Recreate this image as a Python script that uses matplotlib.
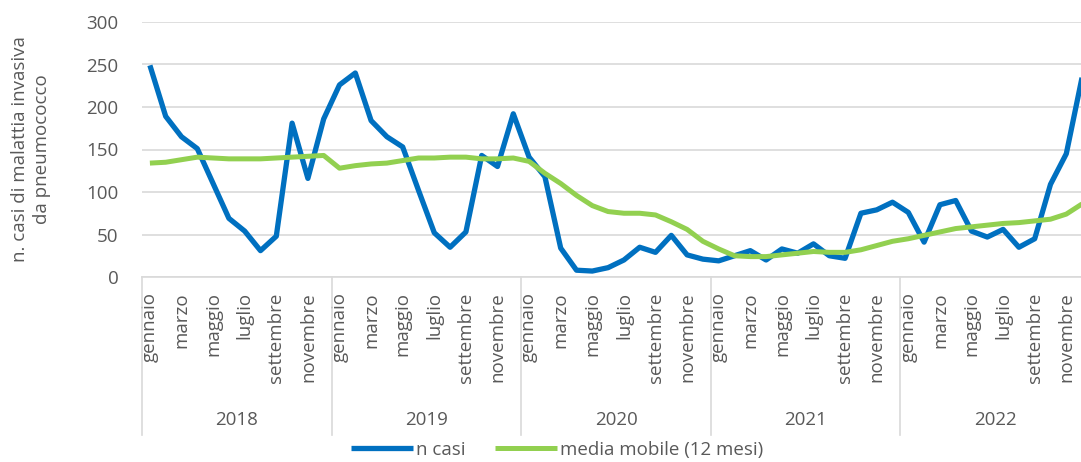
import numpy as np
import matplotlib
matplotlib.use("Agg")
import matplotlib.pyplot as plt
import matplotlib.transforms as mtransforms

plt.rcParams['font.family'] = ['Open Sans', 'DejaVu Sans']

# Data: monthly cases Jan 2018 - Dec 2022
years = ["2018", "2019", "2020", "2021", "2022"]
months = ["gennaio", "febbraio", "marzo", "aprile", "maggio", "giugno",
          "luglio", "agosto", "settembre", "ottobre", "novembre", "dicembre"]

n_casi = [249, 189, 165, 151, 110, 69, 54, 31, 48, 181, 116, 186,
          226, 240, 184, 165, 153, 102, 52, 35, 53, 143, 130, 192,
          141, 118, 34, 8, 7, 11, 20, 35, 29, 49, 26, 21,
          19, 25, 31, 20, 33, 28, 39, 25, 22, 75, 79, 88,
          76, 41, 85, 90, 54, 47, 56, 35, 45, 109, 145, 235]

media_mobile = [134, 135, 138, 141, 140, 139, 139, 139, 140, 141, 142, 143,
                128, 131, 133, 134, 137, 140, 140, 141, 141, 139, 139, 140,
                136, 122, 110, 96, 84, 77, 75, 75, 73, 65, 56, 42,
                33, 25, 24, 24, 26, 28, 30, 29, 29, 32, 37, 42,
                45, 49, 53, 57, 59, 61, 63, 64, 66, 68, 74, 86]

x = np.arange(len(n_casi))
text_col = "#595959"
grid_col = "#d9d9d9"
fs = 13.5

fig = plt.figure(figsize=(10.81, 4.62), dpi=100)
ax = fig.add_axes([142 / 1081, (462 - 277) / 462, 948 / 1081, 255 / 462])

ax.plot(x, n_casi, color="#0070C0", lw=3.8, solid_capstyle="butt", label="n casi", zorder=3)
ax.plot(x, media_mobile, color="#92D050", lw=3.6, solid_capstyle="butt",
        label="media mobile (12 mesi)", zorder=3)

ax.set_xlim(-0.5, len(x) - 0.5)
ax.set_ylim(0, 300)
ax.set_yticks(range(0, 301, 50))
ax.yaxis.grid(True, color=grid_col, lw=1.2)
ax.set_axisbelow(True)
for s in ["left", "right", "top"]:
    ax.spines[s].set_visible(False)
ax.spines["bottom"].set_color(grid_col)
ax.spines["bottom"].set_linewidth(1.2)
ax.tick_params(axis="y", length=0, pad=17, labelsize=fs, labelcolor=text_col)

# month labels every other month
ticks = x[::2]
ax.set_xticks(ticks)
ax.set_xticklabels([months[i % 12] for i in ticks], rotation=90, va="top", ha="center")
ax.tick_params(axis="x", length=0, pad=11, labelsize=fs, labelcolor=text_col)

# year groups
trans = mtransforms.blended_transform_factory(ax.transData, ax.transAxes)
sep_bottom = -(435 - 277) / 255
for k, yr in enumerate(years):
    xs = k * 12 - 0.5
    ax.plot([xs, xs], [0, sep_bottom], transform=trans, color=grid_col, lw=1.2, clip_on=False)
    ax.text(k * 12 + 5.5, -(420 - 277) / 255, yr, transform=trans, ha="center", va="center",
            fontsize=fs, color=text_col)
ax.plot([len(x) - 0.5] * 2, [0, sep_bottom], transform=trans, color=grid_col, lw=1.2, clip_on=False)

ax.set_ylabel("n. casi di malattia invasiva\nda pneumococco", fontsize=fs, color=text_col,
              linespacing=1.3)
ax.yaxis.set_label_coords(-(142 - 51) / 948, 0.5)

fig.legend(loc="center", bbox_to_anchor=(557 / 1081, 1 - 450 / 462), ncol=2, frameon=False,
           fontsize=fs, labelcolor=text_col, handlelength=3.3, handletextpad=0.15,
           columnspacing=1.6)

fig.savefig("out.png", dpi=100)
